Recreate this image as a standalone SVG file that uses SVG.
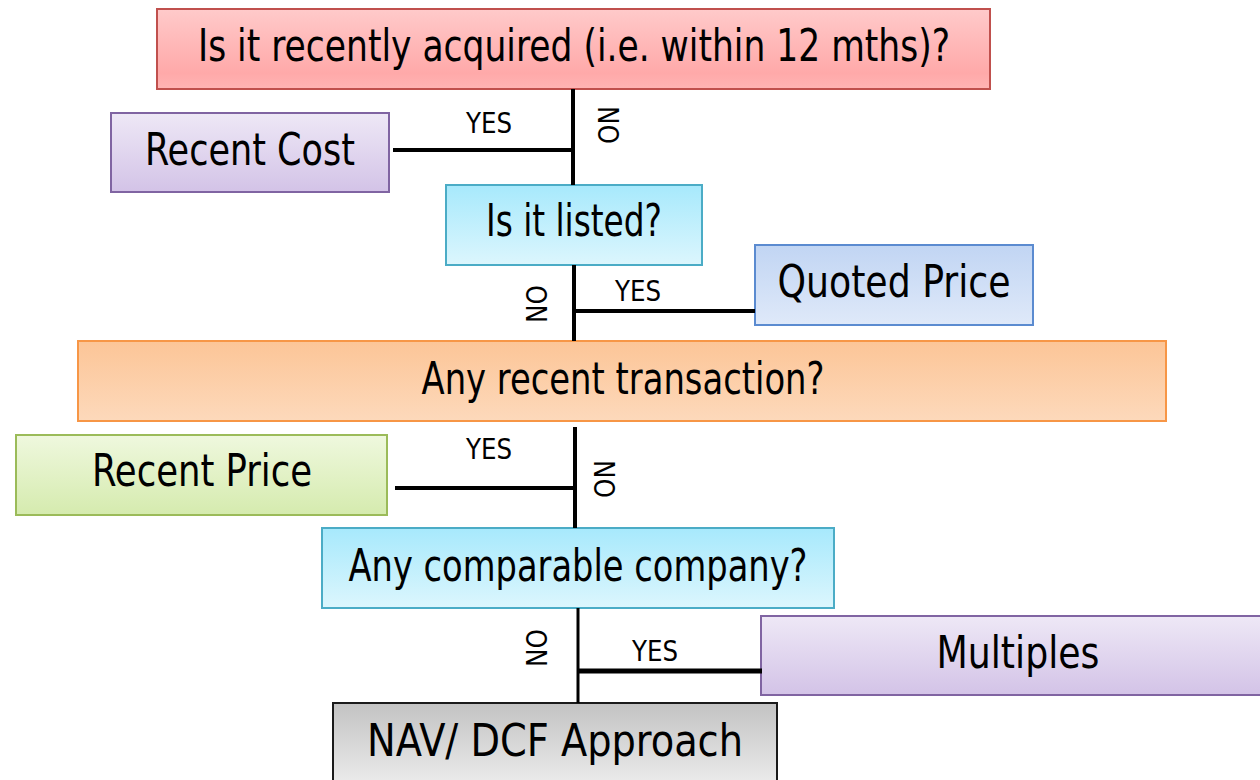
<svg xmlns="http://www.w3.org/2000/svg" width="1260" height="780" viewBox="0 0 1260 780">
<defs>
<linearGradient id="gRed" x1="0" y1="0" x2="0" y2="1"><stop offset="0" stop-color="#ffcaca"/><stop offset="0.8" stop-color="#ffa9a9"/><stop offset="1" stop-color="#ffb4b4"/></linearGradient>
<linearGradient id="gPurple" x1="0" y1="0" x2="0" y2="1"><stop offset="0" stop-color="#eee8f6"/><stop offset="1" stop-color="#d3c3e7"/></linearGradient>
<linearGradient id="gCyan" x1="0" y1="0" x2="0" y2="1"><stop offset="0" stop-color="#a7e9fc"/><stop offset="1" stop-color="#dcf6fd"/></linearGradient>
<linearGradient id="gBlue" x1="0" y1="0" x2="0" y2="1"><stop offset="0" stop-color="#c1d5f3"/><stop offset="1" stop-color="#dfe9f9"/></linearGradient>
<linearGradient id="gOrange" x1="0" y1="0" x2="0" y2="1"><stop offset="0" stop-color="#fcc597"/><stop offset="1" stop-color="#fdd9bb"/></linearGradient>
<linearGradient id="gGreen" x1="0" y1="0" x2="0" y2="1"><stop offset="0" stop-color="#eff8de"/><stop offset="1" stop-color="#d5ebae"/></linearGradient>
<linearGradient id="gGray" x1="0" y1="0" x2="0" y2="1"><stop offset="0" stop-color="#c3c3c3"/><stop offset="1" stop-color="#f0f0f0"/></linearGradient>
</defs>
<style>
text{font-family:"Liberation Sans Narrow","DejaVu Sans Condensed","Liberation Sans",sans-serif;fill:#000}
.big{font-size:45px;text-anchor:middle}
.lbl{font-size:28px;text-anchor:middle}
.conn line{stroke:#000;stroke-width:4}
</style>
<g id="n-acquired"><rect x="157" y="9" width="833" height="80" fill="url(#gRed)" stroke="#c0504d" stroke-width="2"/><text class="big" x="574" y="61" textLength="752" lengthAdjust="spacingAndGlyphs">Is it recently acquired (i.e. within 12 mths)?</text></g>
<g id="n-recentcost"><rect x="111" y="113" width="278" height="79" fill="url(#gPurple)" stroke="#8064a2" stroke-width="2"/><text class="big" x="250" y="165" textLength="210" lengthAdjust="spacingAndGlyphs">Recent Cost</text></g>
<g id="n-listed"><rect x="446" y="185" width="256" height="80" fill="url(#gCyan)" stroke="#4bacc6" stroke-width="2"/><text class="big" x="574" y="236" textLength="176" lengthAdjust="spacingAndGlyphs">Is it listed?</text></g>
<g id="n-quoted"><rect x="755" y="245" width="278" height="80" fill="url(#gBlue)" stroke="#5b8bd0" stroke-width="2"/><text class="big" x="894" y="297" textLength="233" lengthAdjust="spacingAndGlyphs">Quoted Price</text></g>
<g id="n-transaction"><rect x="78" y="341" width="1088" height="80" fill="url(#gOrange)" stroke="#f79646" stroke-width="2"/><text class="big" x="623" y="394" textLength="403" lengthAdjust="spacingAndGlyphs">Any recent transaction?</text></g>
<g id="n-recentprice"><rect x="16" y="435" width="371" height="80" fill="url(#gGreen)" stroke="#9bbb59" stroke-width="2"/><text class="big" x="202" y="486" textLength="220" lengthAdjust="spacingAndGlyphs">Recent Price</text></g>
<g id="n-comparable"><rect x="322" y="528" width="512" height="80" fill="url(#gCyan)" stroke="#4bacc6" stroke-width="2"/><text class="big" x="578" y="581" textLength="459" lengthAdjust="spacingAndGlyphs">Any comparable company?</text></g>
<g id="n-multiples"><rect x="761" y="616" width="510" height="79" fill="url(#gPurple)" stroke="#8064a2" stroke-width="2"/><text class="big" x="1018" y="668" textLength="163" lengthAdjust="spacingAndGlyphs">Multiples</text></g>
<g id="n-navdcf"><rect x="333" y="703" width="444" height="90" fill="url(#gGray)" stroke="#1a1a1a" stroke-width="2"/><text class="big" x="555" y="756" textLength="376" lengthAdjust="spacingAndGlyphs">NAV/ DCF Approach</text></g>
<g id="connectors" class="conn">
<line x1="573" y1="89" x2="573" y2="185"/>
<line x1="393" y1="150" x2="575" y2="150"/>
<line x1="574" y1="265" x2="574" y2="341"/>
<line x1="572" y1="311" x2="755" y2="311"/>
<line x1="575" y1="427" x2="575" y2="528"/>
<line x1="395" y1="488" x2="577" y2="488"/>
<line x1="578" y1="608" x2="578" y2="703" style="stroke-width:3"/>
<line x1="577" y1="671" x2="762" y2="671" style="stroke-width:5"/>
<text class="lbl" x="489" y="133" textLength="46" lengthAdjust="spacingAndGlyphs">YES</text>
<text class="lbl" transform="translate(608,125) rotate(90)" x="0" y="10" textLength="38" lengthAdjust="spacingAndGlyphs">NO</text>
<text class="lbl" x="638" y="301" textLength="46" lengthAdjust="spacingAndGlyphs">YES</text>
<text class="lbl" transform="translate(537,304) rotate(-90)" x="0" y="10" textLength="38" lengthAdjust="spacingAndGlyphs">NO</text>
<text class="lbl" x="489" y="459" textLength="46" lengthAdjust="spacingAndGlyphs">YES</text>
<text class="lbl" transform="translate(604,479) rotate(90)" x="0" y="10" textLength="38" lengthAdjust="spacingAndGlyphs">NO</text>
<text class="lbl" x="655" y="661" textLength="46" lengthAdjust="spacingAndGlyphs">YES</text>
<text class="lbl" transform="translate(537,648) rotate(-90)" x="0" y="10" textLength="38" lengthAdjust="spacingAndGlyphs">NO</text>
</g>
</svg>
